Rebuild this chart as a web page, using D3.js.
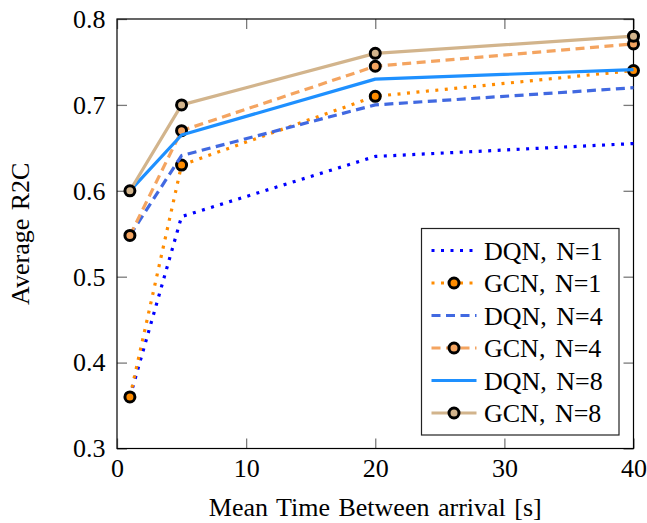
<!DOCTYPE html>
<html>
<head>
<meta charset="utf-8">
<script src="https://cdn.jsdelivr.net/npm/d3@7"></script>
<style>
  html, body { margin: 0; padding: 0; background: #fff; }
  svg { display: block; }
  text { font-family: "Liberation Serif", "Times New Roman", serif; fill: #000; }
</style>
</head>
<body>
<svg id="chart" width="647" height="523"></svg>
<script>
// ---- data ----
const xValues = [1, 5, 20, 40];
const dqnN1 = [0.36, 0.57, 0.64, 0.655];
const gcnN1 = [0.36, 0.63, 0.71, 0.74];
const dqnN4 = [0.548, 0.641, 0.70, 0.72];
const gcnN4 = [0.548, 0.67, 0.745, 0.771];
const dqnN8 = [0.60, 0.665, 0.73, 0.741];
const gcnN8 = [0.60, 0.70, 0.76, 0.78];
const seriesNames = ["DQN, N=1", "GCN, N=1", "DQN, N=4", "GCN, N=4", "DQN, N=8", "GCN, N=8"];
const xTicks = [0, 10, 20, 30, 40];
const yTicks = [0.3, 0.4, 0.5, 0.6, 0.7, 0.8];
const xTitle = "Mean Time Between arrival [s]";
const yTitle = "Average R2C";

// ---- styles ----
const styles = [
  { color: "#0000ff", dash: "3,6.5", marker: false },
  { color: "#ff8c00", dash: "3,6.5", marker: true },
  { color: "#4169e1", dash: "9,5.5", marker: false },
  { color: "#f4a460", dash: "9,5.5", marker: true },
  { color: "#1e90ff", dash: null, marker: false },
  { color: "#d2b48c", dash: null, marker: true }
];
const values = [dqnN1, gcnN1, dqnN4, gcnN4, dqnN8, gcnN8];
const series = seriesNames.map((name, i) => ({
  name, style: styles[i],
  points: xValues.map((x, j) => ({ x, y: values[i][j] }))
}));

const svg = d3.select("#chart");
const L = 117, R = 633.5, T = 19, B = 448.5;
const x = d3.scaleLinear().domain([0, 40]).range([L, R]);
const y = d3.scaleLinear().domain([0.3, 0.8]).range([B, T]);
const FS = 26;

// axes (ticks inward)
const tickColor = "#7a7a7a";
function styleAxis(g, hideText) {
  g.select(".domain").remove();
  g.selectAll(".tick line").attr("stroke", tickColor).attr("stroke-width", 1.3);
  if (hideText) g.selectAll(".tick text").remove();
  g.selectAll(".tick text").attr("font-family", "Liberation Serif, Times New Roman, serif")
    .attr("font-size", FS).attr("fill", "#000");
}
const gx = svg.append("g").attr("transform", `translate(0,${B})`)
  .call(d3.axisBottom(x).tickValues(xTicks).tickFormat(d3.format("d"))
    .tickSizeInner(-10).tickSizeOuter(0).tickPadding(10));
styleAxis(gx, false);
gx.selectAll(".tick text").attr("dy", null).attr("y", 28);

svg.append("g").attr("transform", `translate(0,${T})`)
  .call(d3.axisTop(x).tickValues(xTicks).tickSizeInner(-10).tickSizeOuter(0))
  .call(g => styleAxis(g, true));

const gy = svg.append("g").attr("transform", `translate(${L},0)`)
  .call(d3.axisLeft(y).tickValues(yTicks).tickFormat(d3.format(".1f"))
    .tickSizeInner(-10).tickSizeOuter(0).tickPadding(11.5));
styleAxis(gy, false);
gy.selectAll(".tick text").attr("dy", "0.32em");

svg.append("g").attr("transform", `translate(${R},0)`)
  .call(d3.axisRight(y).tickValues(yTicks).tickSizeInner(-10).tickSizeOuter(0))
  .call(g => styleAxis(g, true));

// frame
svg.append("rect").attr("x", L).attr("y", T).attr("width", R - L).attr("height", B - T)
  .attr("fill", "none").attr("stroke", "#000").attr("stroke-width", 1.2);

// series
const line = d3.line().x(d => x(d.x)).y(d => y(d.y));
series.forEach(s => {
  svg.append("path").datum(s.points)
    .attr("d", line).attr("fill", "none")
    .attr("stroke", s.style.color).attr("stroke-width", 3.2)
    .attr("stroke-dasharray", s.style.dash)
    .attr("stroke-linejoin", "round");
  if (s.style.marker) {
    svg.append("g").selectAll("circle").data(s.points).join("circle")
      .attr("cx", d => x(d.x)).attr("cy", d => y(d.y)).attr("r", 5)
      .attr("fill", s.style.color).attr("stroke", "#000").attr("stroke-width", 3);
  }
});

// legend
const lg = svg.append("g");
lg.append("rect").attr("x", 421.5).attr("y", 228.5).attr("width", 197.5).attr("height", 206.5)
  .attr("fill", "#fff").attr("stroke", "#222").attr("stroke-width", 1.2);
const rowY = d3.scaleLinear().domain([0, 5]).range([250.5, 413]);
series.forEach((s, i) => {
  const cy = rowY(i);
  lg.append("line").attr("x1", 431.5).attr("x2", 476.5).attr("y1", cy).attr("y2", cy)
    .attr("stroke", s.style.color).attr("stroke-width", 3.2)
    .attr("stroke-dasharray", s.style.dash);
  if (s.style.marker) {
    lg.append("circle").attr("cx", 454).attr("cy", cy).attr("r", 5)
      .attr("fill", s.style.color).attr("stroke", "#000").attr("stroke-width", 3);
  }
  lg.append("text").attr("x", 484).attr("y", cy).attr("dy", "0.35em")
    .attr("font-size", FS).attr("word-spacing", "3px").text(s.name);
});

// axis titles
svg.append("text").attr("x", (L + R) / 2).attr("y", 516).attr("text-anchor", "middle")
  .attr("font-size", FS).attr("word-spacing", "2px").text(xTitle);
svg.append("text").attr("transform", `translate(29,${(T + B) / 2}) rotate(-90)`)
  .attr("text-anchor", "middle").attr("font-size", FS).attr("word-spacing", "2px").text(yTitle);
</script>
</body>
</html>
